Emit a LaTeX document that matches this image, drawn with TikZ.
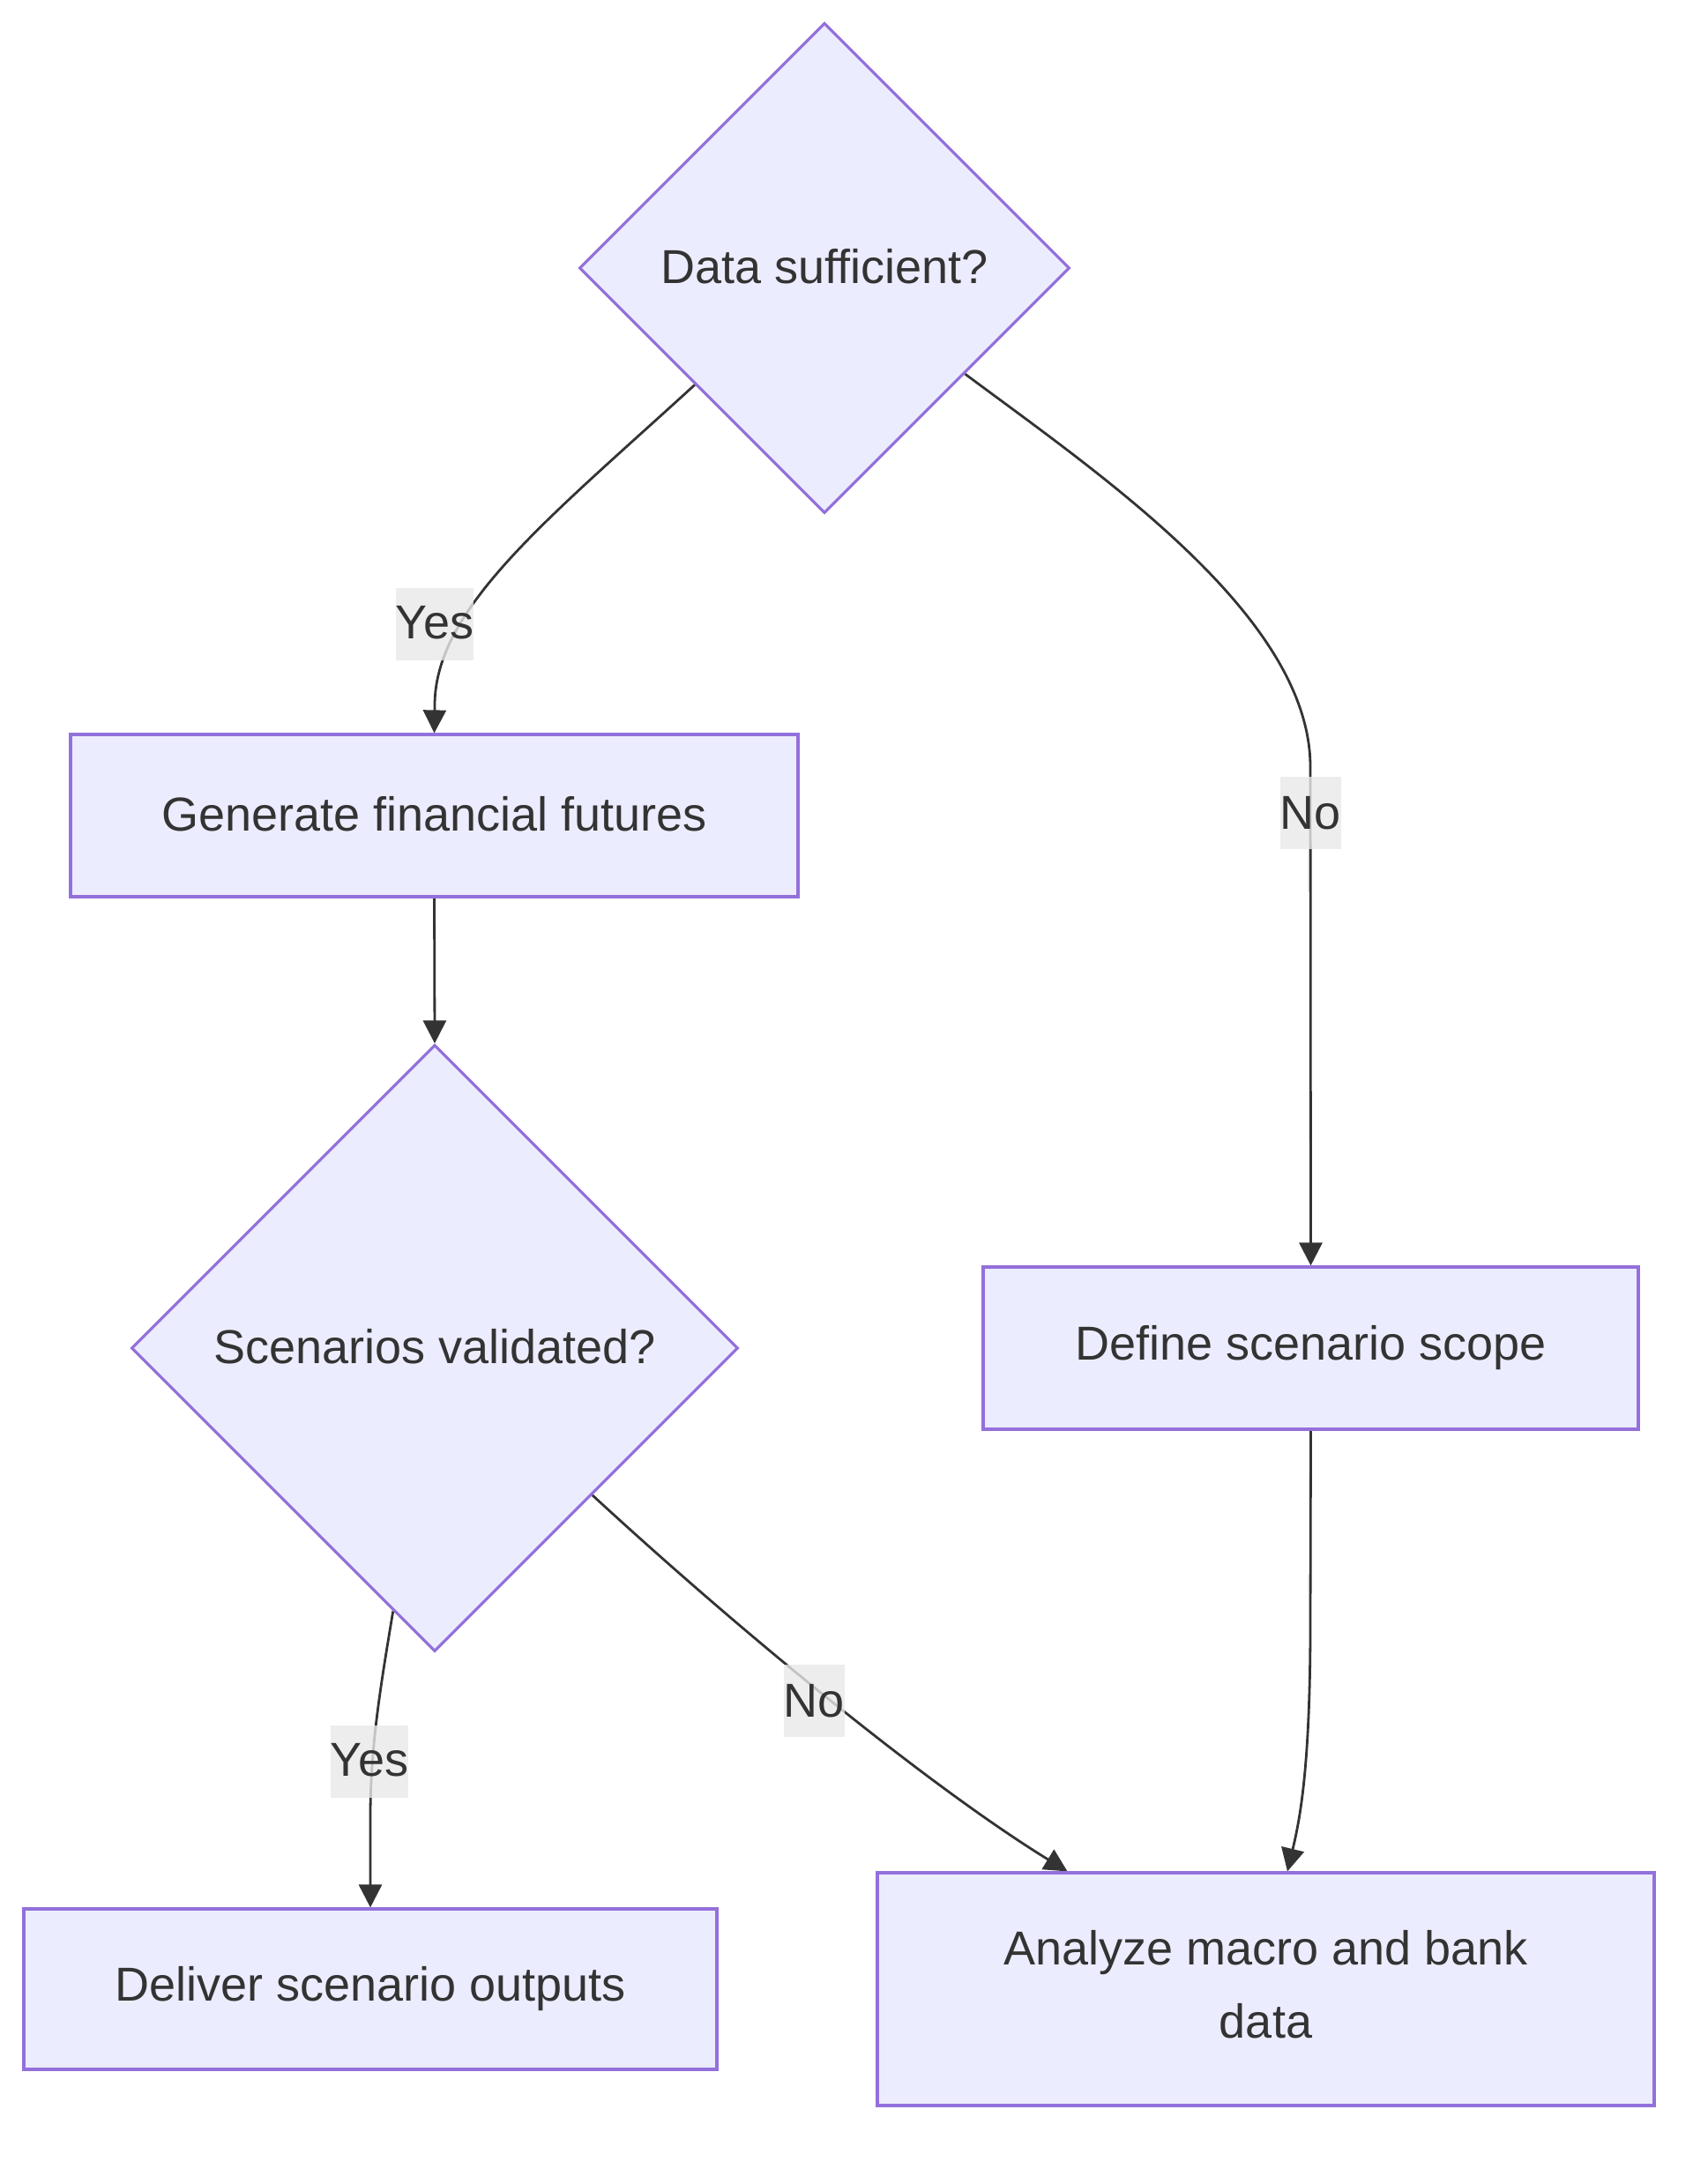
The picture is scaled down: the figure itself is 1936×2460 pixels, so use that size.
\documentclass[tikz,border=0pt]{standalone}
\usepackage{fontspec}
\setmainfont{Liberation Sans}
\usetikzlibrary{shapes.geometric,arrows.meta,calc,backgrounds}
\definecolor{nodefill}{HTML}{ECECFF}
\definecolor{nodeline}{HTML}{9370DB}
\definecolor{edgecol}{HTML}{333333}
\definecolor{txtcol}{HTML}{333333}
\definecolor{lblfill}{HTML}{E8E8E8}
\newcommand{\upby}[2]{\raisebox{#1}{#2}}
\begin{document}
\begin{tikzpicture}[x=0.5pt,y=-0.5pt,
  base/.style={fill=nodefill,draw=nodeline,line width=1.6pt,text=txtcol,
    font=\fontsize{27pt}{41.5pt}\selectfont,inner sep=0pt},
  decision/.style={base,diamond,aspect=1},
  proc/.style={base,rectangle,align=center},
  flow/.style={draw=edgecol,line width=1.4pt,-{Triangle[length=13pt,width=13pt]}},
  lbl/.style={fill=lblfill,fill opacity=0.8,text opacity=1,text=txtcol,
    font=\fontsize{27pt}{41.5pt}\selectfont,inner xsep=0pt,inner ysep=0pt,minimum height=41pt}]
\useasboundingbox (0,0) rectangle (1936,2460);

% nodes
\node[decision,minimum width=278pt,minimum height=278pt] (d1) at (935,304) {\upby{2pt}{Data sufficient?}};
\node[proc,minimum width=412.5pt,minimum height=92pt] (gen) at (492.5,925) {\upby{2pt}{Generate financial futures}};
\node[decision,minimum width=344pt,minimum height=344pt] (d2) at (493,1529) {\upby{2pt}{Scenarios validated?}};
\node[proc,minimum width=371.5pt,minimum height=92pt] (def) at (1486.5,1529) {Define scenario scope};
\node[proc,minimum width=393pt,minimum height=91pt] (del) at (420,2256) {Deliver scenario outputs};
\node[proc,minimum width=440.5pt,minimum height=132pt,text depth=6pt] (an) at (1435.5,2256) {Analyze macro and bank\\data};

% edge labels
\node[lbl] (y1) at (493,708) {\upby{2pt}{Yes}};
\node[lbl] (n1) at (1486,922) {No};
\node[lbl] (y2) at (419,1998) {\upby{2pt}{Yes}};
\node[lbl] (n2) at (923,1929) {No};

\begin{pgfonlayer}{background}
\draw[flow] (d1.222) .. controls (620,590) and (493,690) .. (493,800) -- (gen.north);
\draw[flow] (d1.-37) .. controls (1250,540) and (1486,700) .. (1486,870) -- (def.north);
\draw[flow] (gen.south) -- (d2.north);
\draw[flow] (d2.261) .. controls (432,1910) and (420,1980) .. (420,2060) -- (del.north);
\draw[flow] (d2.-43) .. controls (850,1860) and (1060,2030) .. ($(an.north)+(-225,0)$);
\draw[flow] (def.south) -- (1486,1840) .. controls (1486,2000) and (1475,2060) .. ($(an.north)+(24.5,0)$);
\end{pgfonlayer}
\end{tikzpicture}
\end{document}
